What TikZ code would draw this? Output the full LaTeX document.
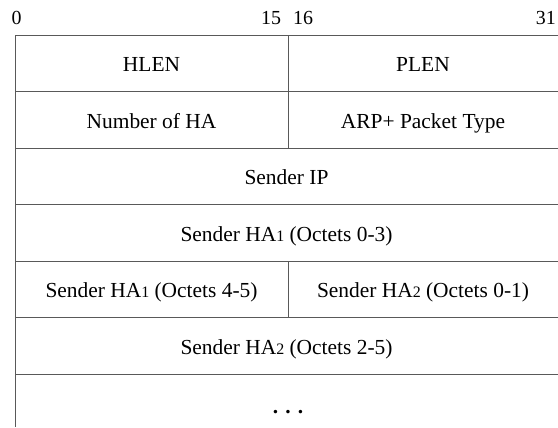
\documentclass[tikz,border=0pt]{standalone}
\usepackage{fontspec}
\setmainfont{Liberation Serif}
\usepackage{xcolor}
\definecolor{rulegray}{gray}{0.35}
\newcommand{\idx}[1]{{\fontsize{16}{16}\selectfont #1}}

\begin{document}
\begin{tikzpicture}[scale=0.03528]
				\tikzstyle{every node}+=[inner sep=0pt, font=\fontsize{21.5}{25}\selectfont]
				\tikzstyle{bitnum}=[anchor=base, font=\fontsize{20}{24}\selectfont]
				\useasboundingbox (0,0) rectangle (558,-427);
				% horizontal rules
				\foreach \y in {35,91.5,148,204.5,261,317.5,374}
					\draw [rulegray, line width=1bp] (15,-\y) -- (558,-\y);
				\draw [rulegray, line width=1bp] (15,-35) -- (15,-427);
				\draw [rulegray, line width=1bp] (288,-35) -- (288,-148);
				\draw [rulegray, line width=1bp] (288,-261) -- (288,-317.5);
				% bit numbers
				\node (bit0) [bitnum, anchor=base west] at (11.5,-24) {0};
				\node (bit15) [bitnum] at (271,-24) {15};
				\node (bit16) [bitnum] at (303,-24) {16};
				\node (bit31) [bitnum, anchor=base east] at (556,-24) {31};
				% fields
				\node (hlen) [anchor=base] at (151.5,-71.5) {HLEN};
				\node (plen) [anchor=base] at (423,-71.5) {PLEN};
				\node (numha) [anchor=base] at (151.5,-128) {Number of HA};
				\node (ptype) [anchor=base] at (423,-128) {ARP+ Packet Type};
				\node (sip) [anchor=base] at (286.5,-184.5) {Sender IP};
				\node (sha1a) [anchor=base] at (286.5,-241) {Sender HA\idx{1} (Octets 0-3)};
				\node (sha1b) [anchor=base] at (151.5,-297.5) {Sender HA\idx{1} (Octets 4-5)};
				\node (sha2a) [anchor=base] at (423,-297.5) {Sender HA\idx{2} (Octets 0-1)};
				\node (sha2b) [anchor=base] at (286.5,-354) {Sender HA\idx{2} (Octets 2-5)};
				\node (more) [anchor=base] at (288,-413) {\textbf{. . .}};
\end{tikzpicture}
\end{document}
